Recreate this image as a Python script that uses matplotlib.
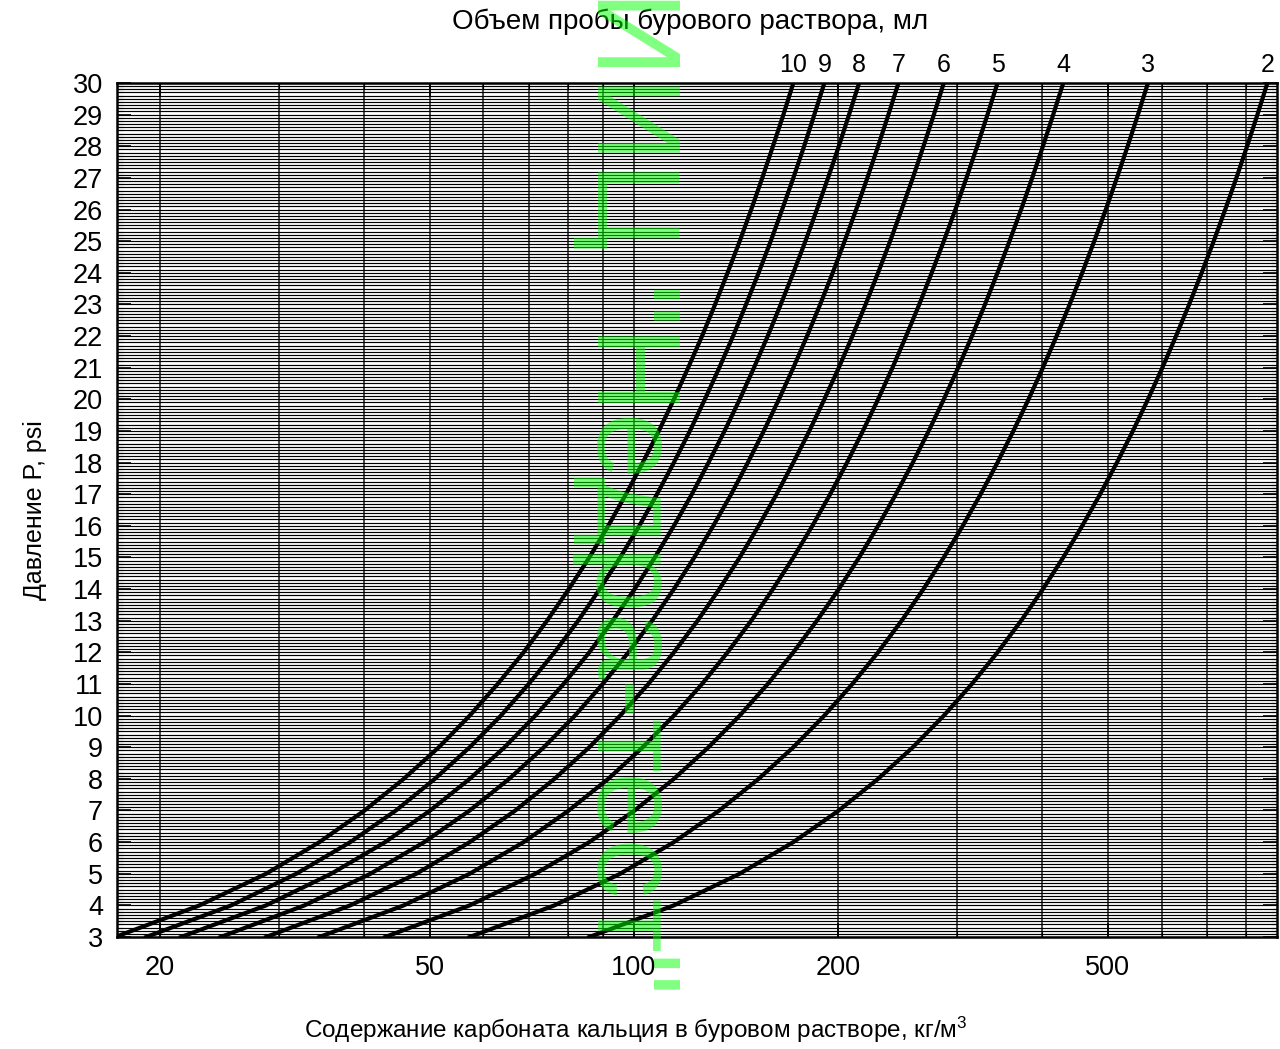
import numpy as np
import matplotlib.pyplot as plt
from matplotlib.ticker import FixedLocator, MultipleLocator, NullFormatter

plt.rcParams['font.family'] = ['Liberation Sans', 'DejaVu Sans']
plt.rcParams['mathtext.default'] = 'regular'

# давление, psi
pressure = list(range(3, 31))

# содержание CaCO3 (кг/м3) по кривым для объема пробы 2..10 мл
c_2 = [86.0, 114.6, 143.3, 171.9, 200.6, 229.2, 257.9, 286.5, 315.2, 343.8, 372.5, 401.1, 429.8, 458.4,
       487.1, 515.7, 544.4, 573.0, 601.7, 630.3, 659.0, 687.6, 716.3, 744.9, 773.6, 802.2, 830.9, 859.5]
c_3 = [57.3, 76.4, 95.5, 114.6, 133.7, 152.8, 171.9, 191.0, 210.1, 229.2, 248.3, 267.4, 286.5, 305.6,
       324.7, 343.8, 362.9, 382.0, 401.1, 420.2, 439.3, 458.4, 477.5, 496.6, 515.7, 534.8, 553.9, 573.0]
c_4 = [43.0, 57.3, 71.6, 86.0, 100.3, 114.6, 128.9, 143.3, 157.6, 171.9, 186.2, 200.6, 214.9, 229.2,
       243.5, 257.9, 272.2, 286.5, 300.8, 315.2, 329.5, 343.8, 358.1, 372.5, 386.8, 401.1, 415.4, 429.8]
c_5 = [34.4, 45.8, 57.3, 68.8, 80.2, 91.7, 103.1, 114.6, 126.1, 137.5, 149.0, 160.4, 171.9, 183.4,
       194.8, 206.3, 217.7, 229.2, 240.7, 252.1, 263.6, 275.0, 286.5, 298.0, 309.4, 320.9, 332.3, 343.8]
c_6 = [28.7, 38.2, 47.8, 57.3, 66.9, 76.4, 86.0, 95.5, 105.1, 114.6, 124.2, 133.7, 143.3, 152.8,
       162.4, 171.9, 181.5, 191.0, 200.6, 210.1, 219.7, 229.2, 238.8, 248.3, 257.9, 267.4, 277.0, 286.5]
c_7 = [24.6, 32.7, 40.9, 49.1, 57.3, 65.5, 73.7, 81.9, 90.0, 98.2, 106.4, 114.6, 122.8, 131.0,
       139.2, 147.3, 155.5, 163.7, 171.9, 180.1, 188.3, 196.5, 204.6, 212.8, 221.0, 229.2, 237.4, 245.6]
c_8 = [21.5, 28.7, 35.8, 43.0, 50.1, 57.3, 64.5, 71.6, 78.8, 86.0, 93.1, 100.3, 107.4, 114.6,
       121.8, 128.9, 136.1, 143.3, 150.4, 157.6, 164.7, 171.9, 179.1, 186.2, 193.4, 200.6, 207.7, 214.9]
c_9 = [19.1, 25.5, 31.8, 38.2, 44.6, 50.9, 57.3, 63.7, 70.0, 76.4, 82.8, 89.1, 95.5, 101.9,
       108.2, 114.6, 121.0, 127.3, 133.7, 140.1, 146.4, 152.8, 159.2, 165.5, 171.9, 178.3, 184.6, 191.0]
c_10 = [17.2, 22.9, 28.7, 34.4, 40.1, 45.8, 51.6, 57.3, 63.0, 68.8, 74.5, 80.2, 86.0, 91.7,
        97.4, 103.1, 108.9, 114.6, 120.3, 126.1, 131.8, 137.5, 143.3, 149.0, 154.7, 160.4, 166.2, 171.9]

volumes = [2, 3, 4, 5, 6, 7, 8, 9, 10]
curves = [c_2, c_3, c_4, c_5, c_6, c_7, c_8, c_9, c_10]

x_ticks = [20, 50, 100, 200, 500]
x_grid = [20, 30, 40, 50, 60, 70, 80, 90, 100, 200, 300, 400, 500, 600, 700, 800]
y_ticks = list(range(3, 31))

fig = plt.figure(figsize=(12.8, 10.49), dpi=100)
ax = fig.add_axes([117 / 1280, 112 / 1049, (1277 - 117) / 1280, (937 - 83) / 1049])
ax.set_xscale('log')
ax.set_xlim(17.3, 888)
ax.set_ylim(3, 30)

ax.xaxis.set_major_locator(FixedLocator(x_ticks))
ax.xaxis.set_minor_locator(FixedLocator(x_grid))
ax.xaxis.set_minor_formatter(NullFormatter())
ax.set_xticklabels([str(t) for t in x_ticks])
ax.yaxis.set_major_locator(FixedLocator(y_ticks))
ax.yaxis.set_minor_locator(MultipleLocator(0.1))

ax.grid(which='both', axis='y', color='black', lw=0.85)
ax.grid(which='both', axis='x', color='0.1', lw=1.1)

ax.tick_params(which='both', direction='in', top=True, right=True, labelsize=19.5)
ax.tick_params(which='major', length=10, width=1.2)
ax.tick_params(which='minor', length=4, width=0.8)
ax.tick_params(axis='x', pad=13)
ax.tick_params(axis='y', pad=10)
for s in ax.spines.values():
    s.set_linewidth(1.8)

for v, c in zip(volumes, curves):
    ax.plot(c, pressure, color='k', lw=3.0, zorder=3)
    ax.annotate(str(v), xy=(c[-1], 30), xytext=(0, 4), textcoords='offset points',
                ha='center', va='bottom', fontsize=18, annotation_clip=False)

fig.text(35 / 1280, 1 - 510 / 1049, 'Давление P, psi', rotation=90, ha='center', va='center', fontsize=18)
fig.text(636 / 1280, 1 - 1030 / 1049, 'Содержание карбоната кальция в буровом растворе, кг/м$^3$',
         ha='center', va='center', fontsize=17.5)
fig.text(690 / 1280, 1 - 22 / 1049, 'Объем пробы бурового раствора, мл', ha='center', va='center', fontsize=20)

# водяной знак
fig.text(597 / 1280, 1 + 10 / 1049, 'ИИЦ "Недра-тест"', rotation=-90, rotation_mode='anchor',
         ha='left', va='baseline', fontsize=86, color=(0, 1, 0), alpha=0.5, zorder=10)

fig.savefig('out.png', dpi=100)
